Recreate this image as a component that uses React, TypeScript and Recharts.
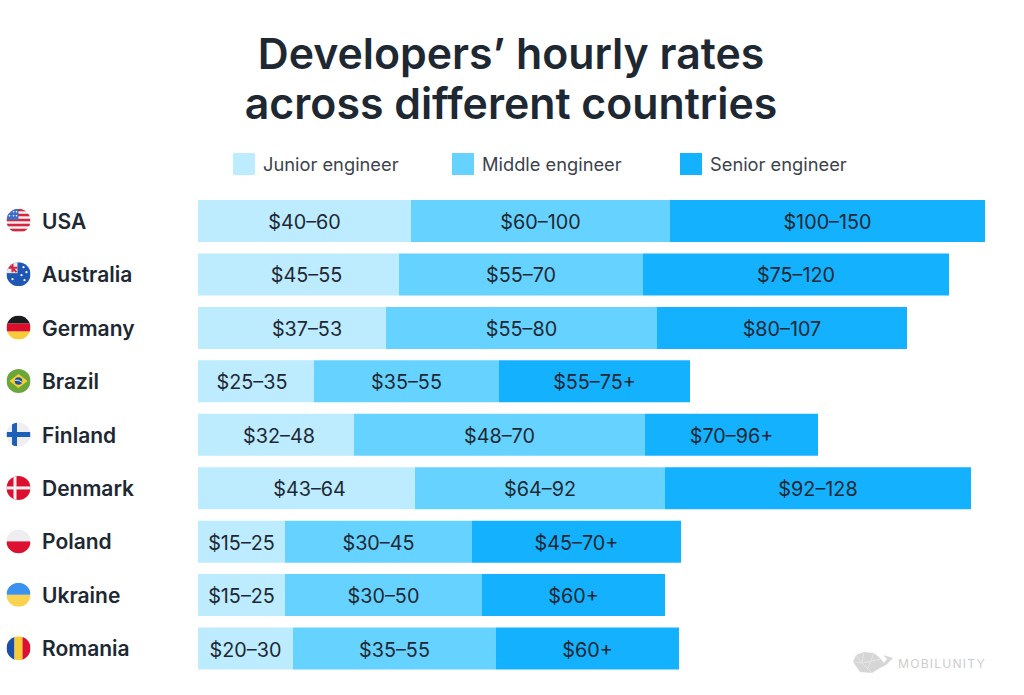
import React from "react";
import { BarChart, Bar, XAxis, YAxis, Legend, LabelList } from "recharts";

const countries = ["USA", "Australia", "Germany", "Brazil", "Finland", "Denmark", "Poland", "Ukraine", "Romania"];
// Segment lengths as drawn in the picture (the bars are not to the scale of their labels)
const juniorLengths = [213, 201, 188, 116, 156, 217, 87, 87, 95];
const middleLengths = [259, 244, 271, 185, 291, 250, 187, 197, 203];
const seniorLengths = [315, 306, 250, 191, 173, 306, 209, 183, 183];
const juniorLabels = ["$40–60", "$45–55", "$37–53", "$25–35", "$32–48", "$43–64", "$15–25", "$15–25", "$20–30"];
const middleLabels = ["$60–100", "$55–70", "$55–80", "$35–55", "$48–70", "$64–92", "$30–45", "$30–50", "$35–55"];
const seniorLabels = ["$100–150", "$75–120", "$80–107", "$55–75+", "$70–96+", "$92–128", "$45–70+", "$60+", "$60+"];
const titleLines = ["Developers’ hourly rates", "across different countries"];

const rows = countries.map((country, i) => ({
  country,
  junior: juniorLengths[i],
  middle: middleLengths[i],
  senior: seniorLengths[i],
  juniorLabel: juniorLabels[i],
  middleLabel: middleLabels[i],
  seniorLabel: seniorLabels[i],
}));

const FONT = "Inter, 'Noto Sans', sans-serif";
const JUNIOR = "#BDEBFF";
const MIDDLE = "#66D2FF";
const SENIOR = "#14B1FF";
const INK = "#1E2832";
// A few junior labels sit off-centre in the reference
const juniorNudge: Record<string, number> = { Australia: 8, Germany: 15, Brazil: -4, Finland: 3, Denmark: 3 };

function FlagArt({ country }: { country: string }) {
  switch (country) {
    case "USA":
      return (
        <g>
          <rect x={-12} y={-12} width={24} height={24} fill="#F4F4F6" />
          {[-12, -7, -2, 3, 8].map((y) => (
            <rect key={y} x={-12} y={y} width={24} height={2.6} fill="#D5273F" />
          ))}
          <rect x={-12} y={-12} width={12} height={11} fill="#3D6FC6" />
          {[-9, -5, -2].map((x) =>
            [-9, -5].map((y) => <circle key={x + "-" + y} cx={x} cy={y} r={0.8} fill="#fff" />)
          )}
        </g>
      );
    case "Australia":
      return (
        <g>
          <rect x={-12} y={-12} width={24} height={24} fill="#1E57B4" />
          <rect x={-12} y={-12} width={11} height={11} fill="#E8E6EE" />
          <path d="M-10 -10 L-2 -2 M-10 -6.5 H-1 M-6 -11 V-2" stroke="#D5273F" strokeWidth={2} />
          {[[5, -7], [8, -2], [3, 1], [6, 6], [-6, 5]].map(([x, y]) => (
            <circle key={x + "-" + y} cx={x} cy={y} r={1.1} fill="#fff" />
          ))}
        </g>
      );
    case "Germany":
      return (
        <g>
          <rect x={-12} y={-12} width={24} height={8} fill="#1B1B1F" />
          <rect x={-12} y={-4} width={24} height={8} fill="#DB0F2B" />
          <rect x={-12} y={4} width={24} height={8} fill="#F8CC36" />
        </g>
      );
    case "Brazil":
      return (
        <g>
          <rect x={-12} y={-12} width={24} height={24} fill="#6CA53A" />
          <polygon points="-9,0 0,-7 9,0 0,7" fill="#F7D02F" />
          <circle r={3.8} fill="#23509A" />
          <path d="M-3.6 -0.8 Q0 -1.6 3.6 1.2" stroke="#fff" strokeWidth={0.9} fill="none" />
        </g>
      );
    case "Finland":
      return (
        <g>
          <rect x={-12} y={-12} width={24} height={24} fill="#EFEFF3" />
          <rect x={-12} y={-2.5} width={24} height={5} fill="#1E5FB8" />
          <rect x={-6.5} y={-12} width={5} height={24} fill="#1E5FB8" />
        </g>
      );
    case "Denmark":
      return (
        <g>
          <rect x={-12} y={-12} width={24} height={24} fill="#DD0F30" />
          <rect x={-12} y={-1.5} width={24} height={3} fill="#F2F2F2" />
          <rect x={-5} y={-12} width={3} height={24} fill="#F2F2F2" />
        </g>
      );
    case "Poland":
      return (
        <g>
          <rect x={-12} y={-12} width={24} height={12} fill="#EEEEF0" />
          <rect x={-12} y={0} width={24} height={12} fill="#DC1030" />
        </g>
      );
    case "Ukraine":
      return (
        <g>
          <rect x={-12} y={-12} width={24} height={12} fill="#3B91F0" />
          <rect x={-12} y={0} width={24} height={12} fill="#FAD24F" />
        </g>
      );
    default:
      return (
        <g>
          <rect x={-12} y={-12} width={8} height={24} fill="#1B4FA8" />
          <rect x={-4} y={-12} width={8} height={24} fill="#F8CC36" />
          <rect x={4} y={-12} width={8} height={24} fill="#DC1030" />
        </g>
      );
  }
}

function CountryTick({ y, payload }: any) {
  const country = payload.value as string;
  const id = "flag-" + country;
  return (
    <g>
      <clipPath id={id}>
        <circle cx={18.5} cy={y} r={12} />
      </clipPath>
      <g clipPath={`url(#${id})`}>
        <g transform={`translate(18.5 ${y})`}>
          <FlagArt country={country} />
        </g>
      </g>
      <text x={42} y={y + 8} fontFamily={FONT} fontSize={21} fontWeight={600} fill={INK}>
        {country}
      </text>
    </g>
  );
}

function SegmentLabel({ x, y, width, height, value, nudge = 0 }: any) {
  return (
    <text
      x={x + width / 2 + nudge}
      y={y + height / 2 + 1}
      textAnchor="middle"
      dominantBaseline="central"
      fontFamily={FONT}
      fontSize={19.8}
      fill={INK}
    >
      {value}
    </text>
  );
}

function JuniorLabel(props: any) {
  return <SegmentLabel {...props} nudge={juniorNudge[countries[props.index]] || 0} />;
}

const legendWidths = [219, 228, 200];

function LegendRow({ payload }: any) {
  return (
    <div style={{ display: "flex", fontFamily: FONT, fontSize: 18.3, color: "#3C424B" }}>
      {(payload || []).map((entry: any, i: number) => (
        <div key={entry.value} style={{ width: legendWidths[i], display: "flex", alignItems: "center" }}>
          <span style={{ width: 22, height: 22, background: entry.color, marginRight: 8, flex: "none" }} />
          <span>{entry.value}</span>
        </div>
      ))}
    </div>
  );
}

export default function App() {
  return (
    <div style={{ position: "absolute", left: 0, top: 0, width: 1024, height: 695, background: "#fff", overflow: "hidden" }}>
      <div
        style={{
          position: "absolute",
          left: 0,
          top: 29,
          width: 1022,
          textAlign: "center",
          fontFamily: FONT,
          fontWeight: 600,
          fontSize: 42.8,
          lineHeight: "50px",
          color: INK,
        }}
      >
        {titleLines.map((line) => (
          <div key={line}>{line}</div>
        ))}
      </div>
      <BarChart
        width={1024}
        height={695}
        data={rows}
        layout="vertical"
        margin={{ top: 172, right: 24, bottom: 20, left: 0 }}
        barSize={42}
        style={{ position: "absolute", left: 0, top: 0 }}
      >
        <XAxis type="number" hide domain={[0, 802]} />
        <YAxis
          type="category"
          dataKey="country"
          width={198}
          axisLine={false}
          tickLine={false}
          tickSize={0}
          tick={<CountryTick />}
          interval={0}
        />
        <Legend
          content={<LegendRow />}
          verticalAlign="top"
          wrapperStyle={{ position: "absolute", left: 233, top: 153, width: 700, height: 22 }}
        />
        <Bar dataKey="junior" name="Junior engineer" stackId="a" fill={JUNIOR} isAnimationActive={false}>
          <LabelList dataKey="juniorLabel" content={<JuniorLabel />} />
        </Bar>
        <Bar dataKey="middle" name="Middle engineer" stackId="a" fill={MIDDLE} isAnimationActive={false}>
          <LabelList dataKey="middleLabel" content={<SegmentLabel />} />
        </Bar>
        <Bar dataKey="senior" name="Senior engineer" stackId="a" fill={SENIOR} isAnimationActive={false}>
          <LabelList dataKey="seniorLabel" content={<SegmentLabel />} />
        </Bar>
      </BarChart>
      <svg width={170} height={30} style={{ position: "absolute", left: 850, top: 648 }}>
        <path d="M3 14 L6 7 L14 4 L24 5 L31 11 L34 15 L37 11 L33 7 L43 10 L36 17 L30 20 L22 25 L10 24 Z" fill="#D6D6D6" />
        <path d="M6 7 L12 15 L22 25 M14 4 L12 15 L3 14 M24 5 L18 20 M31 11 L12 15" stroke="#EDEDED" strokeWidth={0.7} fill="none" />
        <text x={48} y={20} fontFamily={FONT} fontSize={12.2} letterSpacing={1.15} fill="#CDCDCD">
          MOBILUNITY
        </text>
      </svg>
    </div>
  );
}
